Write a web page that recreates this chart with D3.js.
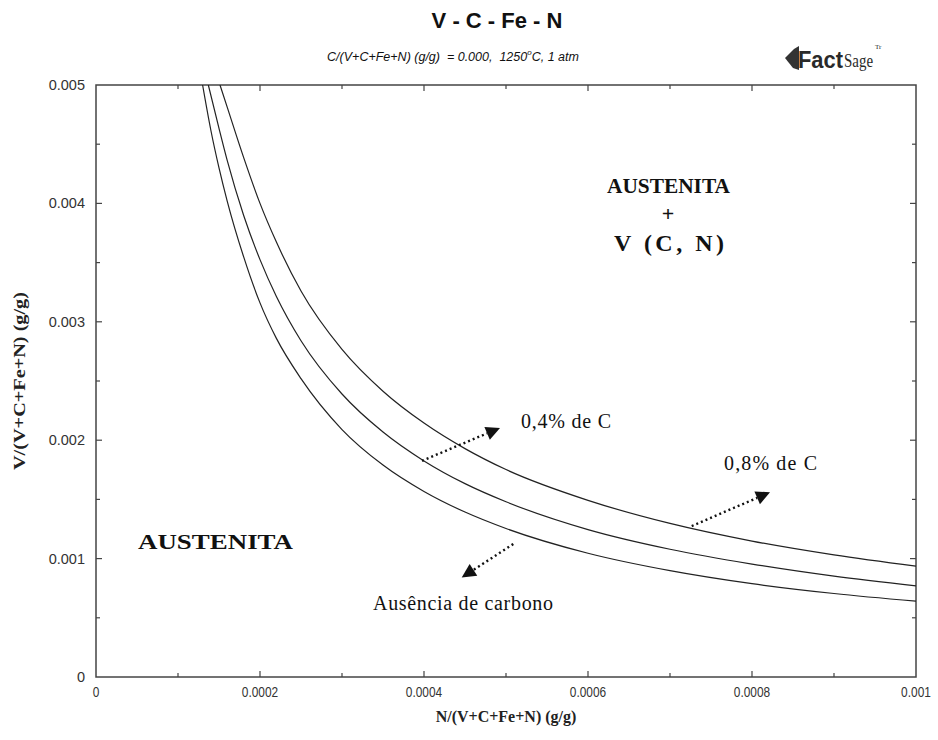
<!DOCTYPE html>
<html>
<head>
<meta charset="utf-8">
<script src="https://cdn.jsdelivr.net/npm/d3@7"></script>
<style>
html,body{margin:0;padding:0;background:#fff;}
svg{display:block;}
</style>
</head>
<body>
<svg id="chart" width="938" height="740"></svg>
<script>
// ---- data ----
const titleText = "V - C - Fe - N";
const xTickValues = [0, 0.0002, 0.0004, 0.0006, 0.0008, 0.001];
const xTickLabels = ["0", "0.0002", "0.0004", "0.0006", "0.0008", "0.001"];
const yTickValues = [0, 0.001, 0.002, 0.003, 0.004, 0.005];
const yTickLabels = ["0", "0.001", "0.002", "0.003", "0.004", "0.005"];
const xMinorTicks = [0.0001, 0.0003, 0.0005, 0.0007, 0.0009];
const yMinorTicks = [0.0005, 0.0015, 0.0025, 0.0035, 0.0045];

// curve: no carbon (lowest)
const curveNoC_N = [0.00013, 0.00014, 0.00015, 0.00016, 0.00018, 0.0002, 0.00022, 0.00025, 0.0003, 0.00035, 0.0004, 0.00045, 0.0005, 0.0006, 0.0007, 0.0008, 0.0009, 0.001];
const curveNoC_V = [0.005, 0.00462, 0.0043, 0.00402, 0.00355, 0.00316, 0.00286, 0.00252, 0.00209, 0.00179, 0.001567, 0.001393, 0.001254, 0.001045, 0.000898, 0.000788, 0.000705, 0.00064];
// curve: 0.4% C (middle)
const curve04_N = [0.000137, 0.00015, 0.00016, 0.00018, 0.0002, 0.00022, 0.00025, 0.0003, 0.00035, 0.0004, 0.00045, 0.0005, 0.0006, 0.0007, 0.0008, 0.0009, 0.001];
const curve04_V = [0.005, 0.004633, 0.004363, 0.0039, 0.003525, 0.003214, 0.00284, 0.00239, 0.002069, 0.001825, 0.001633, 0.00148, 0.001245, 0.001079, 0.000954, 0.000852, 0.00077];
// curve: 0.8% C (upper)
const curve08_N = [0.0001512, 0.00016, 0.00018, 0.0002, 0.00022, 0.00025, 0.0003, 0.00035, 0.0004, 0.00045, 0.0005, 0.0006, 0.0007, 0.0008, 0.0009, 0.001];
const curve08_V = [0.005, 0.004813, 0.004389, 0.004, 0.003673, 0.00326, 0.002767, 0.002414, 0.002145, 0.001929, 0.001752, 0.001492, 0.001297, 0.001148, 0.001031, 0.000936];

// annotation arrows (data coordinates: start N, start V, tip N, tip V)
const arrow04 = [0.0003976, 0.001826, 0.0004927, 0.002104];
const arrow08 = [0.0007265, 0.001275, 0.000822, 0.00156];
const arrowNoC = [0.0005089, 0.001123, 0.000446, 0.00084];

// ---- layout ----
const svg = d3.select("#chart");
const L = 96, R = 916, T = 85, B = 677;
const x = d3.scaleLinear().domain([0, 0.001]).range([L, R]);
const y = d3.scaleLinear().domain([0, 0.005]).range([B, T]);

const axisColor = "#444";
const sans = "'Liberation Sans', Arial, sans-serif";
const serif = "'Liberation Serif', 'Times New Roman', serif";

// title
svg.append("text").attr("x", 497).attr("y", 28).attr("text-anchor", "middle")
  .attr("font-family", sans).attr("font-weight", "bold").attr("font-size", 22)
  .attr("fill", "#111").text(titleText);

const sub = svg.append("text").attr("x", 453).attr("y", 61).attr("text-anchor", "middle")
  .attr("font-family", sans).attr("font-style", "italic").attr("font-size", 12.5)
  .attr("fill", "#111").attr("xml:space", "preserve");
sub.append("tspan").text("C/(V+C+Fe+N) (g/g)  = 0.000,  1250");
sub.append("tspan").attr("dy", -6).attr("font-size", 8).text("o");
sub.append("tspan").attr("dy", 6).text("C, 1 atm");

// FactSage logo
const logo = svg.append("g").attr("transform", "translate(785,44)");
logo.append("path").attr("d", "M0,14 L9,5 L14,2 L14,26 L8,24 Z").attr("fill", "#333");
logo.append("text").attr("x", 13).attr("y", 24).attr("font-family", sans).attr("font-weight", "bold")
  .attr("font-size", 23).attr("fill", "#2a2a2a").attr("textLength", 45).attr("lengthAdjust", "spacingAndGlyphs").text("Fact");
logo.append("text").attr("x", 59).attr("y", 23).attr("font-family", serif)
  .attr("font-size", 19).attr("fill", "#2a2a2a").attr("textLength", 29).attr("lengthAdjust", "spacingAndGlyphs").text("Sage");
logo.append("text").attr("x", 90).attr("y", 5).attr("font-family", serif)
  .attr("font-size", 7).attr("fill", "#2a2a2a").text("Tr");

// frame
svg.append("rect").attr("x", L).attr("y", T).attr("width", R - L).attr("height", B - T)
  .attr("fill", "none").attr("stroke", axisColor).attr("stroke-width", 1.5);

// ticks (inward on all sides)
const major = 6, minor = 4;
const tickG = svg.append("g").attr("stroke", axisColor).attr("stroke-width", 1.2);
function xt(vals, len) {
  vals.forEach(v => {
    if (v === 0 || v === 0.001) return;
    tickG.append("line").attr("x1", x(v)).attr("x2", x(v)).attr("y1", B).attr("y2", B - len);
    tickG.append("line").attr("x1", x(v)).attr("x2", x(v)).attr("y1", T).attr("y2", T + len);
  });
}
function yt(vals, len) {
  vals.forEach(v => {
    if (v === 0 || v === 0.005) return;
    tickG.append("line").attr("y1", y(v)).attr("y2", y(v)).attr("x1", L).attr("x2", L + len);
    tickG.append("line").attr("y1", y(v)).attr("y2", y(v)).attr("x1", R).attr("x2", R - len);
  });
}
xt(xTickValues, major); xt(xMinorTicks, minor);
yt(yTickValues, major); yt(yMinorTicks, minor);

// tick labels
xTickValues.forEach((v, i) => {
  const t = svg.append("text").attr("x", x(v)).attr("y", 697).attr("text-anchor", "middle")
    .attr("font-family", sans).attr("font-size", 14).attr("fill", "#333").text(xTickLabels[i]);
  t.attr("transform", `translate(${x(v)},0) scale(0.85,1) translate(${-x(v)},0)`);
});
yTickValues.forEach((v, i) => {
  svg.append("text").attr("x", 85).attr("y", y(v) + 5).attr("text-anchor", "end")
    .attr("font-family", sans).attr("font-size", 14.5).attr("fill", "#333").text(yTickLabels[i]);
});

// axis titles
svg.append("text").attr("x", 506).attr("y", 722).attr("text-anchor", "middle")
  .attr("font-family", serif).attr("font-weight", "bold").attr("font-size", 16)
  .attr("fill", "#222").text("N/(V+C+Fe+N) (g/g)");
svg.append("text").attr("transform", "translate(25,381) rotate(-90)").attr("text-anchor", "middle")
  .attr("font-family", serif).attr("font-weight", "bold").attr("font-size", 16)
  .attr("fill", "#222").attr("textLength", 178).attr("lengthAdjust", "spacingAndGlyphs")
  .text("V/(V+C+Fe+N) (g/g)");

// curves
svg.append("clipPath").attr("id", "clip").append("rect")
  .attr("x", L).attr("y", T).attr("width", R - L).attr("height", B - T);
const line = d3.line().x(d => x(d[0])).y(d => y(d[1])).curve(d3.curveMonotoneX);
const curves = [
  d3.zip(curveNoC_N, curveNoC_V),
  d3.zip(curve04_N, curve04_V),
  d3.zip(curve08_N, curve08_V)
];
svg.append("g").attr("clip-path", "url(#clip)").selectAll("path").data(curves).join("path")
  .attr("d", line).attr("fill", "none").attr("stroke", "#222").attr("stroke-width", 1.2);

// region labels
svg.append("text").attr("x", 138).attr("y", 549)
  .attr("font-family", serif).attr("font-weight", "bold").attr("font-size", 22)
  .attr("fill", "#111").attr("textLength", 155).attr("lengthAdjust", "spacingAndGlyphs").text("AUSTENITA");
svg.append("text").attr("x", 607).attr("y", 193)
  .attr("font-family", serif).attr("font-weight", "bold").attr("font-size", 22)
  .attr("fill", "#111").attr("textLength", 123).attr("lengthAdjust", "spacingAndGlyphs").text("AUSTENITA");
svg.append("text").attr("x", 668).attr("y", 221).attr("text-anchor", "middle")
  .attr("font-family", serif).attr("font-weight", "bold").attr("font-size", 22)
  .attr("fill", "#111").text("+");
svg.append("text").attr("x", 614).attr("y", 251)
  .attr("font-family", serif).attr("font-weight", "bold").attr("font-size", 24)
  .attr("fill", "#111").attr("textLength", 110).attr("lengthAdjust", "spacing").text("V (C, N)");

// annotation labels
svg.append("text").attr("x", 521).attr("y", 428).attr("font-family", serif).attr("font-size", 20)
  .attr("fill", "#111").attr("textLength", 90).text("0,4% de C");
svg.append("text").attr("x", 724).attr("y", 470).attr("font-family", serif).attr("font-size", 20)
  .attr("fill", "#111").attr("textLength", 93).text("0,8% de C");
svg.append("text").attr("x", 373).attr("y", 610).attr("font-family", serif).attr("font-size", 20)
  .attr("fill", "#111").attr("textLength", 180).text("Ausência de carbono");

// arrows
function arrow(a) {
  const x1 = x(a[0]), y1 = y(a[1]), x2 = x(a[2]), y2 = y(a[3]);
  const ang = Math.atan2(y2 - y1, x2 - x1);
  const hl = 14, hw = 7;
  const bx = x2 - hl * Math.cos(ang), by = y2 - hl * Math.sin(ang);
  svg.append("line").attr("x1", x1).attr("y1", y1).attr("x2", bx).attr("y2", by)
    .attr("stroke", "#111").attr("stroke-width", 2.4).attr("stroke-dasharray", "2,3");
  const px = -Math.sin(ang), py = Math.cos(ang);
  svg.append("path").attr("d", `M${x2},${y2} L${bx + px * hw},${by + py * hw} L${bx - px * hw},${by - py * hw} Z`)
    .attr("fill", "#111");
}
arrow(arrow04); arrow(arrow08); arrow(arrowNoC);
</script>
</body>
</html>
